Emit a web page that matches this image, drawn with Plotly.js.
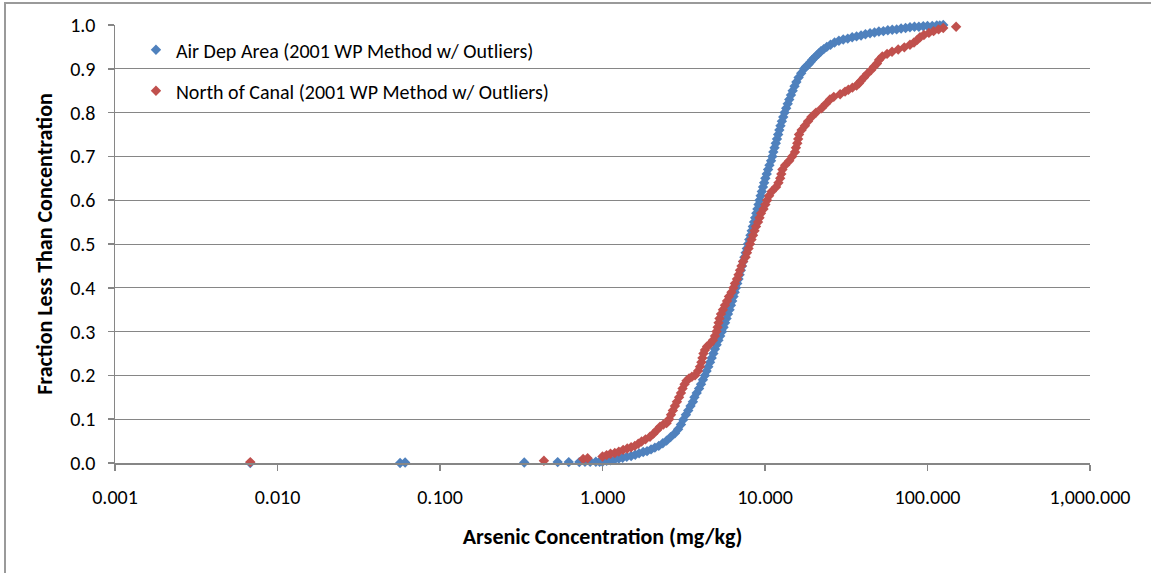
<!DOCTYPE html>
<html>
<head>
<meta charset="utf-8">
<script src="https://cdn.plot.ly/plotly-3.0.1.min.js"></script>
<style>
  html, body { margin: 0; padding: 0; background: #fff; }
  #wrap { position: relative; width: 1151px; height: 573px; overflow: hidden; }
  #chart { width: 1151px; height: 573px; }
  #frame { position: absolute; left: 4px; top: 2px; width: 2000px; height: 2000px;
           border-top: 2px solid #9a9a9a; border-left: 2px solid #9a9a9a; pointer-events: none; }
</style>
</head>
<body>
<div id="wrap"><div id="chart"></div><div id="frame"></div></div>
<script>
// ---- Data ----
const seriesNames = ["Air Dep Area (2001 WP Method w/ Outliers)", "North of Canal (2001 WP Method w/ Outliers)"];

const airDepConc = [
  0.0068, 0.0568, 0.061, 0.33, 0.53, 0.62, 0.72, 0.78, 0.84, 0.91, 0.96,
  1.00, 1.06, 1.12, 1.19, 1.26, 1.33, 1.41, 1.50, 1.59, 1.68, 1.78, 1.88, 1.99, 2.10, 2.22, 2.35, 2.48, 2.62, 2.79, 2.92, 3.04, 3.14,
  3.26, 3.37, 3.48, 3.60, 3.68, 3.80, 3.93, 4.04, 4.15, 4.27, 4.37, 4.48, 4.59, 4.70, 4.81, 4.92, 5.04, 5.17, 5.30, 5.44,
  5.56, 5.68, 5.80, 5.92, 6.05, 6.17, 6.28, 6.40, 6.51, 6.63, 6.75, 6.87, 6.98, 7.10, 7.22, 7.34, 7.47, 7.60, 7.73, 7.86,
  8.00, 8.14, 8.28, 8.42, 8.56, 8.70, 8.84, 8.98, 9.12, 9.25, 9.40, 9.56, 9.72, 9.88, 10.05, 10.25, 10.45, 10.65, 10.9, 11.1,
  11.25, 11.45, 11.65, 11.85, 12.05, 12.25, 12.45, 12.7, 12.95, 13.2, 13.5, 13.8, 14.1, 14.45, 14.8, 15.2, 15.6, 16.1, 16.7, 17.4,
  17.9, 18.5, 19.0, 19.5, 20.1, 20.7, 21.4, 22.1, 23.0, 24.0, 25.3, 26.8,
  28.5, 30.3, 32.3, 34.4, 36.6, 39.0, 41.5, 44.3, 47.2, 50.2, 53.5, 57.0, 60.7, 64.6, 68.8, 73.3, 78.0, 83.1, 88.5, 94.2,
  100, 107, 114, 119, 125
];
const airDepFrac = [
  0.000, 0.000, 0.001, 0.001, 0.002, 0.002, 0.002, 0.003, 0.003, 0.003, 0.003,
  0.003, 0.005, 0.006, 0.008, 0.010, 0.012, 0.014, 0.016, 0.019, 0.022, 0.025, 0.027, 0.031, 0.035, 0.039, 0.045, 0.051, 0.059, 0.068, 0.077, 0.088, 0.099,
  0.11, 0.12, 0.13, 0.14, 0.15, 0.16, 0.17, 0.18, 0.19, 0.20, 0.21, 0.22, 0.23, 0.24, 0.25, 0.26, 0.27, 0.28, 0.29, 0.30,
  0.31, 0.32, 0.33, 0.34, 0.35, 0.36, 0.37, 0.38, 0.39, 0.40, 0.41, 0.42, 0.43, 0.44, 0.45, 0.46, 0.47, 0.48, 0.49, 0.50,
  0.51, 0.52, 0.53, 0.54, 0.55, 0.56, 0.57, 0.58, 0.59, 0.60, 0.61, 0.62, 0.63, 0.64, 0.65, 0.66, 0.67, 0.68, 0.69, 0.70,
  0.71, 0.72, 0.73, 0.74, 0.75, 0.76, 0.77, 0.78, 0.79, 0.80, 0.81, 0.82, 0.83, 0.84, 0.85, 0.86, 0.87, 0.88, 0.89, 0.90,
  0.905, 0.91, 0.915, 0.92, 0.925, 0.93, 0.935, 0.94, 0.945, 0.95, 0.955, 0.96,
  0.964, 0.967, 0.969, 0.972, 0.974, 0.976, 0.979, 0.981, 0.983, 0.985, 0.986, 0.988, 0.989, 0.990, 0.992, 0.993, 0.995, 0.996, 0.996, 0.997,
  0.998, 0.998, 0.999, 0.999, 1.000
];

const northCanalConc = [
  0.0068, 0.436, 0.76, 0.81,
  1.00, 1.06, 1.12, 1.19, 1.26, 1.34, 1.42, 1.50, 1.58, 1.66, 1.74, 1.84, 1.96, 2.06, 2.16, 2.26, 2.37, 2.48, 2.57,
  2.64, 2.71, 2.79, 2.87, 2.96, 3.04, 3.11, 3.20, 3.29, 3.41, 3.55, 3.71, 3.87, 3.98, 4.06, 4.12, 4.18, 4.27, 4.40, 4.59,
  4.78, 4.92, 5.03, 5.11, 5.18, 5.25, 5.36, 5.51, 5.67, 5.84, 6.00, 6.22, 6.40, 6.53, 6.72, 6.87, 7.02, 7.17, 7.33, 7.59,
  7.75, 7.92, 8.09, 8.26, 8.44, 8.62, 8.80, 9.06, 9.25, 9.45, 9.79, 10.05, 10.3, 10.6, 11.0, 11.7, 12.1, 12.4, 12.6, 12.8,
  13.3, 14.1, 14.7, 15.3, 15.5, 15.8, 16.0, 16.2, 16.8, 17.6, 18.4, 19.3, 20.6, 22.3, 23.7, 25.1, 26.5, 29.0, 31.1, 32.6,
  34.5, 36.6, 37.9, 39.0, 40.6, 42.5, 45.0, 46.9, 48.9, 50.3, 52.7, 56.4, 60.5, 66.0, 72.0, 78.0, 82.6, 86.5, 89.9, 95.0,
  102, 109, 117, 125, 150
];
const northCanalFrac = [
  0.002, 0.005, 0.009, 0.011,
  0.015, 0.018, 0.021, 0.023, 0.026, 0.030, 0.033, 0.036, 0.039, 0.044, 0.049, 0.054, 0.060, 0.067, 0.075, 0.083, 0.088, 0.091, 0.100,
  0.110, 0.120, 0.130, 0.140, 0.150, 0.160, 0.170, 0.180, 0.188, 0.193, 0.197, 0.200, 0.210, 0.220, 0.230, 0.240, 0.250, 0.258, 0.266, 0.272,
  0.280, 0.290, 0.300, 0.310, 0.320, 0.330, 0.340, 0.350, 0.360, 0.370, 0.380, 0.390, 0.400, 0.410, 0.420, 0.430, 0.440, 0.450, 0.460, 0.470,
  0.480, 0.490, 0.500, 0.510, 0.520, 0.530, 0.540, 0.550, 0.560, 0.570, 0.580, 0.590, 0.600, 0.610, 0.620, 0.630, 0.640, 0.650, 0.660, 0.670,
  0.680, 0.690, 0.700, 0.710, 0.720, 0.730, 0.740, 0.750, 0.760, 0.770, 0.780, 0.790, 0.800, 0.810, 0.820, 0.830, 0.836, 0.842, 0.848, 0.852,
  0.857, 0.862, 0.867, 0.873, 0.880, 0.888, 0.897, 0.905, 0.912, 0.920, 0.928, 0.934, 0.939, 0.944, 0.949, 0.955, 0.960, 0.966, 0.972, 0.977,
  0.982, 0.986, 0.990, 0.993, 0.996
];

const xTickVals = [0.001, 0.01, 0.1, 1, 10, 100, 1000];
const xTickText = ["0.001", "0.010", "0.100", "1.000", "10.000", "100.000", "1,000.000"];
const yTickVals = [0, 0.1, 0.2, 0.3, 0.4, 0.5, 0.6, 0.7, 0.8, 0.9, 1.0];
const yTickText = ["0.0", "0.1", "0.2", "0.3", "0.4", "0.5", "0.6", "0.7", "0.8", "0.9", "1.0"];

// ---- Chart ----
const FONT = "Carlito, Lato, 'Liberation Sans', sans-serif";
const gridGray = "#868686";

const traces = [
  {
    x: airDepConc, y: airDepFrac, name: seriesNames[0], type: "scatter", mode: "markers",
    legendgroup: "a", cliponaxis: false,
    marker: { symbol: "diamond", size: 8, color: "#4F81BD", line: { width: 0 } }
  },
  {
    x: northCanalConc, y: northCanalFrac, name: seriesNames[1], type: "scatter", mode: "markers",
    legendgroup: "b", cliponaxis: false,
    marker: { symbol: "diamond", size: 8, color: "#C0504D", line: { width: 0 } }
  }
];

const layout = {
  width: 1151, height: 573,
  margin: { l: 115, r: 61, t: 25, b: 110 },
  paper_bgcolor: "#ffffff", plot_bgcolor: "#ffffff",
  font: { family: FONT, size: 20, color: "#000000" },
  showlegend: true,
  legend: {
    x: 0.0215, y: 0.988, xanchor: "left", yanchor: "top",
    bgcolor: "rgba(0,0,0,0)", borderwidth: 0,
    font: { family: FONT, size: 20, color: "#000000" },
    traceorder: "grouped", tracegroupgap: 12, itemwidth: 30
  },
  xaxis: {
    type: "log", range: [-3, 3],
    tickvals: xTickVals, ticktext: xTickText,
    ticks: "outside", ticklen: 6, tickwidth: 1.5, tickcolor: gridGray,
    showline: true, linecolor: gridGray, linewidth: 1.5,
    showgrid: false, zeroline: false,
    ticklabelstandoff: 9,
    tickfont: { family: FONT, size: 20, color: "#000" },
    title: { text: "<b>Arsenic Concentration (mg/kg)</b>", font: { family: FONT, size: 22, color: "#000" }, standoff: 21 }
  },
  yaxis: {
    range: [0, 1],
    tickvals: yTickVals, ticktext: yTickText,
    ticks: "outside", ticklen: 6, tickwidth: 1.5, tickcolor: gridGray,
    showline: true, linecolor: gridGray, linewidth: 1.5,
    showgrid: true, gridcolor: gridGray, gridwidth: 1,
    zeroline: false,
    ticklabelstandoff: 8,
    tickfont: { family: FONT, size: 20, color: "#000" },
    title: { text: "<b>Fraction Less Than Concentration</b>", font: { family: FONT, size: 22, color: "#000" }, standoff: 11 }
  }
};

Plotly.newPlot("chart", traces, layout, { displayModeBar: false, staticPlot: true });
</script>
</body>
</html>
